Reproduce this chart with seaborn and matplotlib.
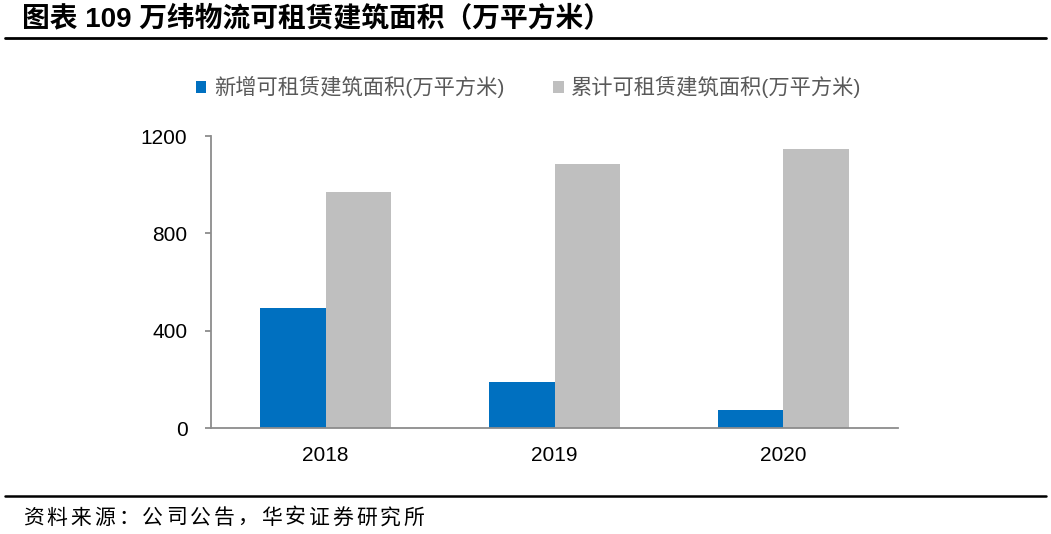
import matplotlib
matplotlib.use("Agg")
import matplotlib.pyplot as plt
from matplotlib.lines import Line2D
from matplotlib.patches import Patch
import seaborn as sns
import pandas as pd

years = ["2018", "2019", "2020"]
new_area = [492, 187, 72]
total_area = [969, 1085, 1145]
series_names = ["新增可租赁建筑面积(万平方米)", "累计可租赁建筑面积(万平方米)"]
colors = ["#0070C0", "#BFBFBF"]
yticks = [0, 400, 800, 1200]
title = "图表 109 万纬物流可租赁建筑面积（万平方米）"
source = "资料来源：公司公告，华安证券研究所"

sns.set_theme(style="white")
plt.rcParams['font.family'] = ['Liberation Sans', 'Noto Sans CJK SC', 'DejaVu Sans']

df = pd.DataFrame({
    "year": years * 2,
    "value": new_area + total_area,
    "series": [series_names[0]] * 3 + [series_names[1]] * 3,
})

W, H = 1051, 534
fig = plt.figure(figsize=(W / 100, H / 100), dpi=100)
ax = fig.add_axes([0.2008, 0.1985, 0.6536, 0.5468])

sns.barplot(data=df, x="year", y="value", hue="series", order=years,
            hue_order=series_names, palette=colors, width=0.57,
            saturation=1, ax=ax, legend=False, edgecolor="none", linewidth=0)

ax.set_xlim(-0.5, 2.5)
ax.set_ylim(0, 1200)
ax.set_yticks(yticks)
ax.set_yticklabels([str(v) for v in yticks])
ax.set_xlabel("")
ax.set_ylabel("")
ax.set_xticks([-0.5, 0.5, 1.5, 2.5], minor=True)
for s in ["top", "right"]:
    ax.spines[s].set_visible(False)
for s in ["left", "bottom"]:
    ax.spines[s].set_color("#8C8C8C")
    ax.spines[s].set_linewidth(1.3)
ax.tick_params(axis="x", which="major", length=0, pad=13, labelsize=15, labelcolor="black")
ax.tick_params(axis="x", which="minor", length=5, width=1.3, color="#8C8C8C", direction="out")
ax.tick_params(axis="y", which="major", length=4, width=1.3, color="#8C8C8C",
               direction="out", pad=13, labelsize=15, labelcolor="black", left=True)
ax.grid(False)

handles = [Patch(facecolor=c, edgecolor="none") for c in colors]
leg = fig.legend(handles, series_names, loc="center", bbox_to_anchor=(0.503, 0.837),
                 ncol=2, frameon=False, fontsize=15.3, handlelength=0.5, handleheight=0.5,
                 handletextpad=0.35, columnspacing=2.3, labelcolor="#595959")

fig.text(0.021, 0.964, title, fontsize=20, fontweight="bold", va="center", ha="left",
         color="black")
fig.add_artist(Line2D([0.005, 0.995], [0.929, 0.929], transform=fig.transFigure,
                      color="black", linewidth=2))
fig.add_artist(Line2D([0.005, 0.995], [0.0712, 0.0712], transform=fig.transFigure,
                      color="black", linewidth=1.8))
# source line with wide character spacing as in the reference
pitch = 23.8
for i, ch in enumerate(source):
    fig.text((23 + i * pitch) / W, 0.030, ch, fontsize=15, va="center", ha="left",
             color="black")

fig.savefig("out.png", dpi=100)
